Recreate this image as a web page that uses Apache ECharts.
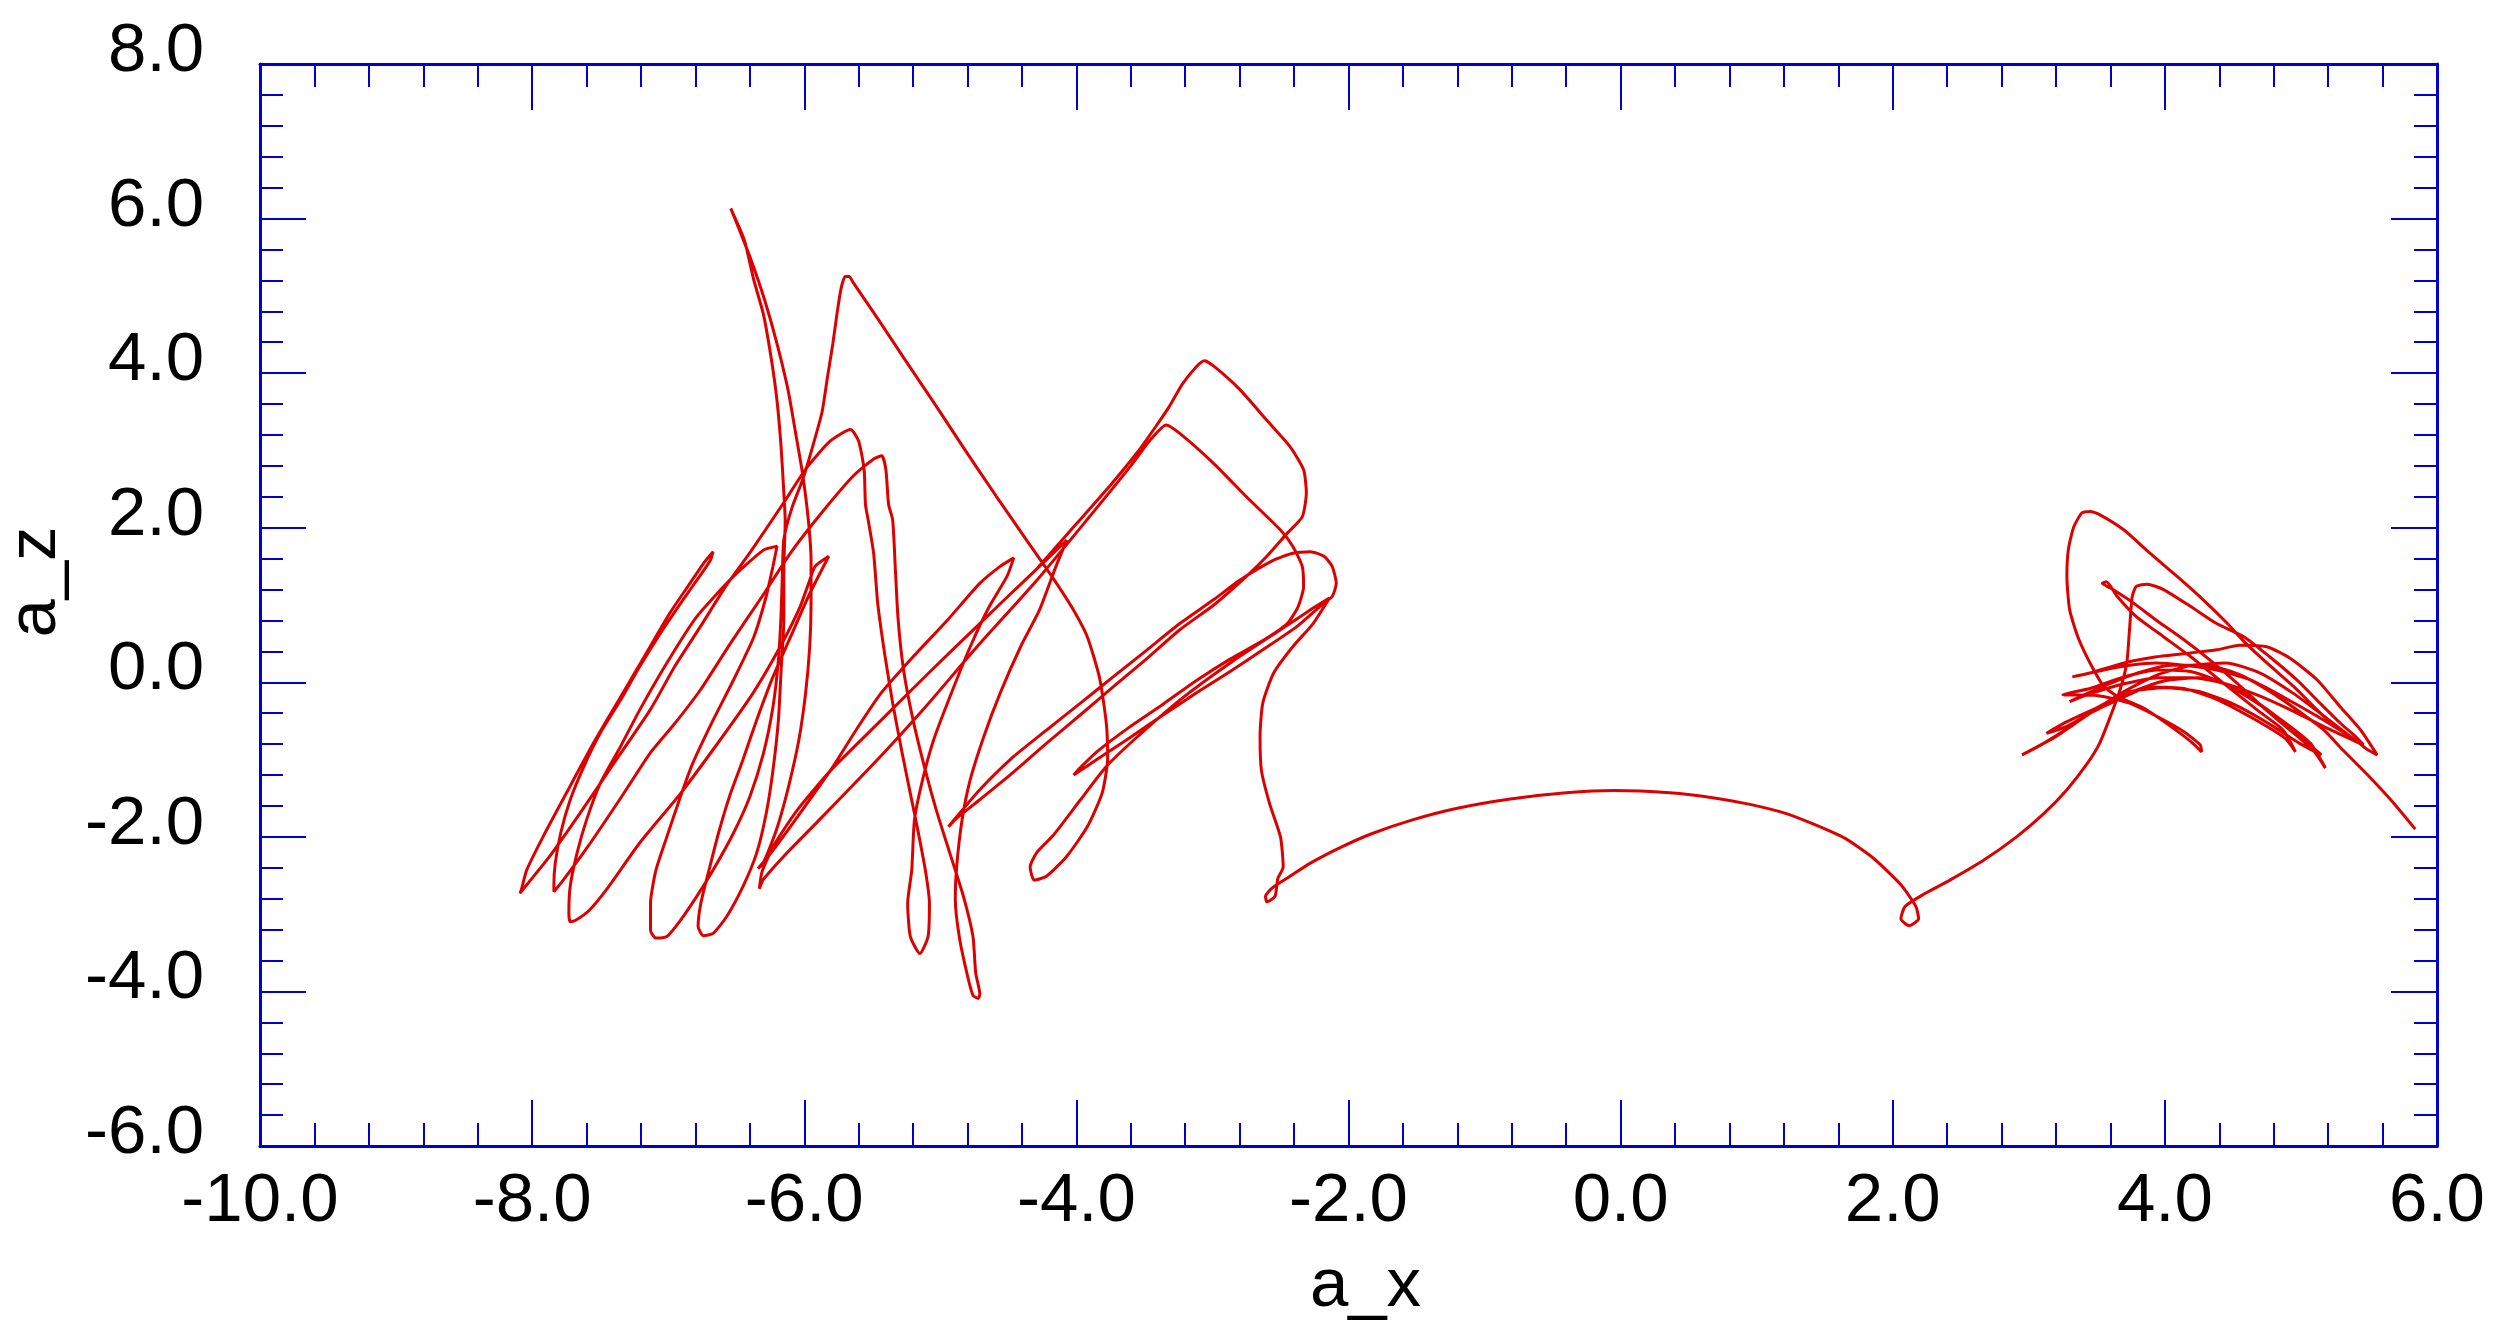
<!DOCTYPE html>
<html>
<head>
<meta charset="utf-8">
<script src="https://cdn.jsdelivr.net/npm/echarts@6/dist/echarts.min.js"></script>
<style>
html,body{margin:0;padding:0;background:#fff;}
#chart{width:2493px;height:1333px;}
</style>
</head>
<body>
<div id="chart"></div>
<script>
// Axis ranges and tick step
const xRange = [-10, 6];
const yRange = [-6, 8];
const tickStep = 2;
const xName = 'a_x';
const yName = 'a_z';

// Trajectory pieces, [a_x, a_z]
const segStart = [[-4.30,1.45],[-4.00,2.05],[-3.75,2.55],[-3.55,2.98],[-3.42,3.30],[-3.32,3.56],[-3.22,3.86],[-3.12,4.08]];
const segB9ToT11 = [[-4.88,-1.76],[-4.71,-1.52],[-4.46,-1.16],[-4.22,-0.79],[-3.97,-0.42],[-3.73,-0.06],[-3.48,0.31],[-3.24,0.68],[-2.99,1.00],[-2.75,1.37],[-2.60,1.63],[-2.45,1.93],[-2.34,2.14],[-2.31,2.45],[-2.33,2.75],[-2.43,3.05],[-2.60,3.39],[-2.80,3.79],[-2.99,4.09],[-3.06,4.16]];
const segB11ToB9 = [[-3.85,-1.00],[-3.61,-0.72],[-3.36,-0.42],[-3.12,-0.14],[-2.87,0.14],[-2.63,0.42],[-2.38,0.72],[-2.21,0.98],[-2.12,1.11],[-2.09,1.28],[-2.12,1.50],[-2.18,1.63],[-2.28,1.69],[-2.41,1.67],[-2.55,1.58],[-2.80,1.32],[-2.99,1.07],[-3.24,0.76],[-3.48,0.42],[-3.73,0.07],[-3.97,-0.27],[-4.22,-0.62],[-4.46,-0.96],[-4.71,-1.39],[-4.88,-1.74],[-4.94,-1.87]];
const segT10ToB11 = [[-3.24,3.22],[-2.99,2.83],[-2.75,2.40],[-2.50,1.97],[-2.41,1.76],[-2.34,1.50],[-2.33,1.24],[-2.37,0.98],[-2.45,0.76],[-2.62,0.55],[-2.87,0.30],[-3.12,0.02],[-3.36,-0.28],[-3.61,-0.58],[-3.85,-0.90],[-3.98,-1.12],[-4.02,-1.20]];
const segB7ToT10 = [[-6.30,-2.55],[-6.15,-2.25],[-5.90,-1.80],[-5.44,-0.96],[-5.10,-0.30],[-4.73,0.46],[-4.30,1.30],[-3.90,2.15],[-3.60,2.80],[-3.45,3.15],[-3.34,3.33]];
const segT9ToB7 = [[-4.20,1.62],[-4.45,1.20],[-4.71,0.76],[-5.08,0.13],[-5.44,-0.50],[-5.80,-1.13],[-6.05,-1.65],[-6.22,-2.10],[-6.31,-2.45],[-6.33,-2.67]];
const segB10ToT9 = [[-4.76,-4.05],[-4.80,-3.80],[-4.86,-3.30],[-4.89,-2.80],[-4.88,-2.39],[-4.84,-1.78],[-4.78,-1.26],[-4.68,-0.70],[-4.56,-0.14],[-4.41,0.46],[-4.27,0.94],[-4.15,1.50],[-4.07,1.84]];
const segT4ToB10 = [[-5.40,2.75],[-5.38,2.30],[-5.35,2.10],[-5.33,1.45],[-5.31,0.81],[-5.27,0.16],[-5.20,-0.49],[-5.11,-1.14],[-5.03,-1.65],[-4.93,-2.21],[-4.83,-2.77],[-4.76,-3.29],[-4.74,-3.76],[-4.71,-4.03],[-4.72,-4.09]];
const segB2ToT4 = [[-7.78,-2.58],[-7.60,-2.15],[-7.35,-1.50],[-7.13,-0.91],[-6.95,-0.53],[-6.76,-0.09],[-6.54,0.51],[-6.31,1.11],[-6.09,1.70],[-5.86,2.22],[-5.64,2.67],[-5.49,2.89],[-5.43,2.93]];
const segT5ToB2 = [[-6.69,1.58],[-6.77,1.37],[-6.89,1.07],[-7.04,0.68],[-7.21,0.20],[-7.35,-0.23],[-7.50,-0.66],[-7.62,-1.09],[-7.72,-1.52],[-7.79,-1.95],[-7.83,-2.34],[-7.84,-2.62],[-7.84,-2.71]];
const segB1ToT5 = [[-8.08,-2.69],[-8.04,-2.43],[-7.92,-2.00],[-7.75,-1.44],[-7.55,-0.79],[-7.35,-0.19],[-7.16,0.38],[-6.99,0.89],[-6.84,1.28],[-6.74,1.54],[-6.67,1.69]];
const segT3ToB1 = [[-5.81,3.12],[-5.98,2.78],[-6.16,2.30],[-6.39,1.70],[-6.57,1.26],[-6.76,0.73],[-6.95,0.21],[-7.13,-0.35],[-7.40,-1.05],[-7.65,-1.70],[-7.87,-2.25],[-8.03,-2.60],[-8.09,-2.73]];
const segB8ToT3 = [[-5.09,-3.29],[-5.08,-2.86],[-5.11,-2.43],[-5.17,-1.87],[-5.22,-1.44],[-5.28,-0.92],[-5.35,-0.27],[-5.41,0.38],[-5.46,1.02],[-5.49,1.67],[-5.53,2.10],[-5.55,2.30],[-5.56,2.75],[-5.60,3.12],[-5.66,3.27]];
const segT8ToB8 = [[-4.51,1.37],[-4.64,0.98],[-4.78,0.46],[-4.93,-0.19],[-5.05,-0.75],[-5.13,-1.26],[-5.19,-1.78],[-5.21,-2.43],[-5.24,-2.86],[-5.22,-3.29],[-5.15,-3.51]];
const segB6ToT8 = [[-6.25,-2.22],[-6.05,-1.74],[-5.80,-1.12],[-5.62,-0.62],[-5.44,-0.15],[-5.20,0.33],[-4.95,0.80],[-4.71,1.28],[-4.56,1.50],[-4.46,1.61]];
const segT1ToB6 = [[-6.48,5.87],[-6.39,5.46],[-6.29,4.94],[-6.20,4.38],[-6.12,3.79],[-6.06,3.19],[-6.01,2.67],[-5.97,2.10],[-5.95,1.58],[-5.95,1.02],[-5.96,0.46],[-5.99,-0.14],[-6.04,-0.75],[-6.11,-1.31],[-6.19,-1.83],[-6.26,-2.17],[-6.31,-2.36],[-6.34,-2.41]];
const segB5ToT1 = [[-6.67,-3.25],[-6.57,-3.03],[-6.45,-2.64],[-6.35,-2.21],[-6.28,-1.70],[-6.23,-1.14],[-6.19,-0.49],[-6.17,0.16],[-6.15,0.81],[-6.15,1.45],[-6.14,2.10],[-6.15,2.45],[-6.17,3.04],[-6.20,3.64],[-6.24,4.16],[-6.30,4.76],[-6.37,5.20],[-6.44,5.72],[-6.54,6.13]];
const segHookToB5 = [[-5.92,1.50],[-5.82,1.63],[-5.97,1.11],[-6.10,0.59],[-6.23,0.07],[-6.35,-0.49],[-6.45,-1.00],[-6.55,-1.48],[-6.63,-1.95],[-6.70,-2.43],[-6.76,-2.86],[-6.78,-3.16],[-6.74,-3.28]];
const segHookToB3 = [[-5.96,1.32],[-6.03,0.98],[-6.18,0.45],[-6.38,-0.15],[-6.62,-0.75],[-6.91,-1.44],[-7.21,-2.08],[-7.44,-2.65],[-7.58,-2.95],[-7.68,-3.08],[-7.72,-3.10]];
const segB3ToT6 = [[-7.73,-2.99],[-7.72,-2.64],[-7.67,-2.21],[-7.60,-1.78],[-7.50,-1.31],[-7.35,-0.83],[-7.21,-0.36],[-7.01,0.25],[-6.79,0.85],[-6.52,1.37],[-6.30,1.71],[-6.20,1.76]];
const segT6ToB4 = [[-6.23,1.50],[-6.28,1.11],[-6.37,0.59],[-6.52,0.03],[-6.67,-0.49],[-6.82,-1.05],[-6.91,-1.48],[-7.01,-2.00],[-7.09,-2.43],[-7.13,-2.86],[-7.13,-3.21],[-7.09,-3.31]];
const segB4ToT2 = [[-7.01,-3.29],[-6.91,-3.08],[-6.79,-2.77],[-6.67,-2.43],[-6.52,-1.95],[-6.40,-1.48],[-6.30,-0.92],[-6.23,-0.32],[-6.19,0.29],[-6.17,0.89],[-6.16,1.45],[-6.15,1.85],[-6.09,2.26],[-6.01,2.63],[-5.94,3.04],[-5.87,3.49],[-5.83,3.94],[-5.79,4.38],[-5.76,4.76],[-5.73,5.09],[-5.70,5.25],[-5.67,5.25]];
const segT2ToB12 = [[-5.64,5.17],[-5.45,4.68],[-5.27,4.20],[-5.04,3.60],[-4.82,3.01],[-4.59,2.41],[-4.37,1.85],[-4.18,1.37],[-4.03,0.96],[-3.92,0.59],[-3.83,0.06],[-3.78,-0.53],[-3.77,-0.98],[-3.81,-1.43],[-3.92,-1.87],[-4.07,-2.25],[-4.22,-2.51],[-4.31,-2.56],[-4.34,-2.39]];
const segB12ToB13 = [[-4.29,-2.20],[-4.17,-1.98],[-3.97,-1.52],[-3.78,-1.09],[-3.58,-0.75],[-3.24,-0.23],[-2.87,0.25],[-2.50,0.68],[-2.26,0.96],[-2.14,1.09],[-2.26,0.76],[-2.41,0.46],[-2.55,0.12],[-2.63,-0.27],[-2.65,-0.70],[-2.64,-1.14],[-2.58,-1.57],[-2.50,-2.00],[-2.48,-2.39],[-2.52,-2.54],[-2.54,-2.77],[-2.60,-2.84],[-2.61,-2.77],[-2.56,-2.66]];
const segArch = [[-2.43,-2.51],[-2.28,-2.34],[-2.05,-2.13],[-1.83,-1.96],[-1.53,-1.78],[-1.20,-1.63],[-0.81,-1.51],[-0.40,-1.43],[-0.05,-1.40],[0.36,-1.43],[0.70,-1.50],[0.95,-1.58],[1.20,-1.69],[1.41,-1.83],[1.65,-2.02],[1.86,-2.28],[2.06,-2.62],[2.17,-2.90],[2.19,-3.06],[2.12,-3.15],[2.06,-3.06],[2.09,-2.90],[2.23,-2.74],[2.42,-2.56],[2.67,-2.30],[2.91,-2.00],[3.11,-1.70],[3.28,-1.39],[3.43,-1.05],[3.52,-0.79],[3.60,-0.44],[3.67,-0.10],[3.72,0.25],[3.74,0.68],[3.76,1.11],[3.79,1.24],[3.87,1.27],[3.99,1.20],[4.19,0.98],[4.38,0.76],[4.58,0.59],[4.77,0.33],[4.97,0.03],[5.14,-0.27],[5.29,-0.53],[5.40,-0.70],[5.46,-0.81]];
const segR2ToL2 = [[5.36,-0.70],[5.12,-0.44],[4.87,-0.19],[4.63,0.03],[4.38,0.16],[4.14,0.22],[3.94,0.25],[3.74,0.22],[3.55,0.16],[3.32,0.07]];
const segL2ToR1 = [[3.45,0.12],[3.70,0.25],[3.94,0.33],[4.19,0.38],[4.38,0.42],[4.55,0.48],[4.75,0.46],[4.92,0.31],[5.12,0.03],[5.29,-0.32],[5.44,-0.62],[5.52,-0.83],[5.56,-0.94]];
const segBigLoop = [[5.48,-0.86],[5.38,-0.72],[5.26,-0.58],[5.12,-0.36],[4.95,-0.06],[4.75,0.25],[4.58,0.53],[4.46,0.76],[4.28,1.07],[4.09,1.37],[3.89,1.67],[3.70,1.97],[3.52,2.17],[3.45,2.21],[3.39,2.19],[3.33,2.01],[3.29,1.71],[3.28,1.37],[3.30,0.94],[3.36,0.59],[3.45,0.25],[3.55,-0.05],[3.65,-0.18]];
const segNarrowLoop = [[3.85,-0.34],[4.05,-0.58],[4.20,-0.78],[4.27,-0.90],[4.26,-0.81],[4.14,-0.64],[3.94,-0.44],[3.74,-0.27],[3.50,-0.17],[3.25,-0.16]];
const segL1ToR3 = [[3.45,-0.08],[3.70,0.07],[3.94,0.16],[4.19,0.14],[4.43,-0.01],[4.68,-0.27],[4.92,-0.57],[5.07,-0.79],[5.18,-1.11]];
const segR3ToR5 = [[5.09,-0.88],[4.92,-0.62],[4.72,-0.32],[4.53,-0.01],[4.33,0.29],[4.14,0.55],[3.94,0.80],[3.75,1.05],[3.60,1.22],[3.54,1.28],[3.57,1.30],[3.65,1.11],[3.79,0.85],[3.99,0.59],[4.19,0.33],[4.43,-0.01],[4.68,-0.36],[4.87,-0.62],[4.96,-0.90]];
const segR5ToL4 = [[4.88,-0.72],[4.63,-0.45],[4.38,-0.22],[4.14,-0.08],[3.89,-0.06],[3.65,-0.23],[3.45,-0.40],[3.28,-0.57],[3.13,-0.66]];
const segL4ToR4 = [[3.28,-0.51],[3.50,-0.33],[3.75,-0.13],[4.00,0.02],[4.25,0.06],[4.50,-0.06],[4.75,-0.35],[4.97,-0.66],[5.15,-0.94]];
const segR4ToL3 = [[5.00,-0.80],[4.75,-0.52],[4.50,-0.28],[4.25,-0.12],[4.00,-0.07],[3.75,-0.12],[3.50,-0.33],[3.30,-0.58],[3.10,-0.80],[2.95,-0.94]];
const segL3ToR = [[3.20,-0.70],[3.45,-0.40],[3.70,-0.12],[3.95,0.10],[4.20,0.22],[4.45,0.25],[4.70,0.12],[4.95,-0.15],[5.20,-0.48],[5.42,-0.78]];
const segRToL = [[5.20,-0.60],[4.95,-0.38],[4.70,-0.18],[4.45,-0.02],[4.20,0.06],[3.95,0.06],[3.70,-0.02],[3.45,-0.15],[3.30,-0.25]];
const segToEnd = [[3.55,-0.05],[3.80,0.12],[4.05,0.22],[4.30,0.22],[4.55,0.10],[4.80,-0.15],[5.02,-0.42],[5.17,-0.62],[5.31,-0.88],[5.48,-1.18],[5.66,-1.52],[5.84,-1.90]];

const rev = a => a.slice().reverse();

// drawing order: starts near (-4.3, 1.45), ends at (5.84, -1.90)
const path = [].concat(
  segStart, rev(segB9ToT11), rev(segB11ToB9), rev(segT10ToB11), rev(segB7ToT10),
  rev(segT9ToB7), rev(segB10ToT9), rev(segT4ToB10), rev(segB2ToT4), rev(segT5ToB2),
  rev(segB1ToT5), rev(segT3ToB1), rev(segB8ToT3), rev(segT8ToB8), rev(segB6ToT8),
  rev(segT1ToB6), rev(segB5ToT1), rev(segHookToB5), segHookToB3, segB3ToT6, segT6ToB4,
  segB4ToT2, segT2ToB12, segB12ToB13, segArch, segR2ToL2, segL2ToR1, segBigLoop,
  segNarrowLoop, segL1ToR3, segR3ToR5, segR5ToL4, segL4ToR4, segR4ToL3, segL3ToR,
  segRToL, segToEnd
);

const BLUE = '#0000d0';
const FONT = "'Liberation Sans', Arial, sans-serif";
const FS = 69;

function axisBase(pos, range, showLabels) {
  return {
    type: 'value',
    position: pos,
    min: range[0], max: range[1], interval: tickStep,
    axisLine: { show: true, onZero: false, lineStyle: { color: BLUE, width: 3 } },
    axisTick: { show: true, inside: true, length: 46, lineStyle: { color: BLUE, width: 2 } },
    minorTick: { show: true, splitNumber: 5, length: 23, lineStyle: { color: BLUE, width: 2 } },
    splitLine: { show: false },
    minorSplitLine: { show: false },
    axisLabel: { show: showLabels },
    axisPointer: { show: false }
  };
}

const chart = echarts.init(document.getElementById('chart'), null, { renderer: 'canvas' });

const xBottom = axisBase('bottom', xRange, true);
xBottom.axisLabel = {
  show: true, color: '#000', fontSize: FS, fontFamily: FONT, margin: 21,
  formatter: v => v.toFixed(1)
};
xBottom.name = xName;
xBottom.nameLocation = 'middle';
xBottom.nameGap = 106;
xBottom.nameTextStyle = { color: '#000', fontSize: FS, fontFamily: FONT, padding: [0, 0, 0, 34] };

const yLeft = axisBase('left', yRange, true);
yLeft.axisLabel = {
  show: true, color: '#000', fontSize: FS, fontFamily: FONT, margin: 56,
  verticalAlign: 'bottom', lineHeight: 24,
  formatter: v => v.toFixed(1)
};
yLeft.name = yName;
yLeft.nameLocation = 'middle';
yLeft.nameGap = 190;
yLeft.nameTextStyle = { color: '#000', fontSize: FS, fontFamily: FONT, padding: [0, 0, 0, 46] };

chart.setOption({
  animation: false,
  backgroundColor: '#ffffff',
  grid: { left: 260, right: 56, top: 64, bottom: 187, containLabel: false, outerBoundsMode: 'none' },
  xAxis: [xBottom, axisBase('top', xRange, false)],
  yAxis: [yLeft, axisBase('right', yRange, false)],
  series: [{
    type: 'line',
    xAxisIndex: 0,
    yAxisIndex: 0,
    data: path,
    showSymbol: false,
    smooth: 0.2,
    lineStyle: { color: '#dd0000', width: 3 },
    clip: false
  }]
});
</script>
</body>
</html>
